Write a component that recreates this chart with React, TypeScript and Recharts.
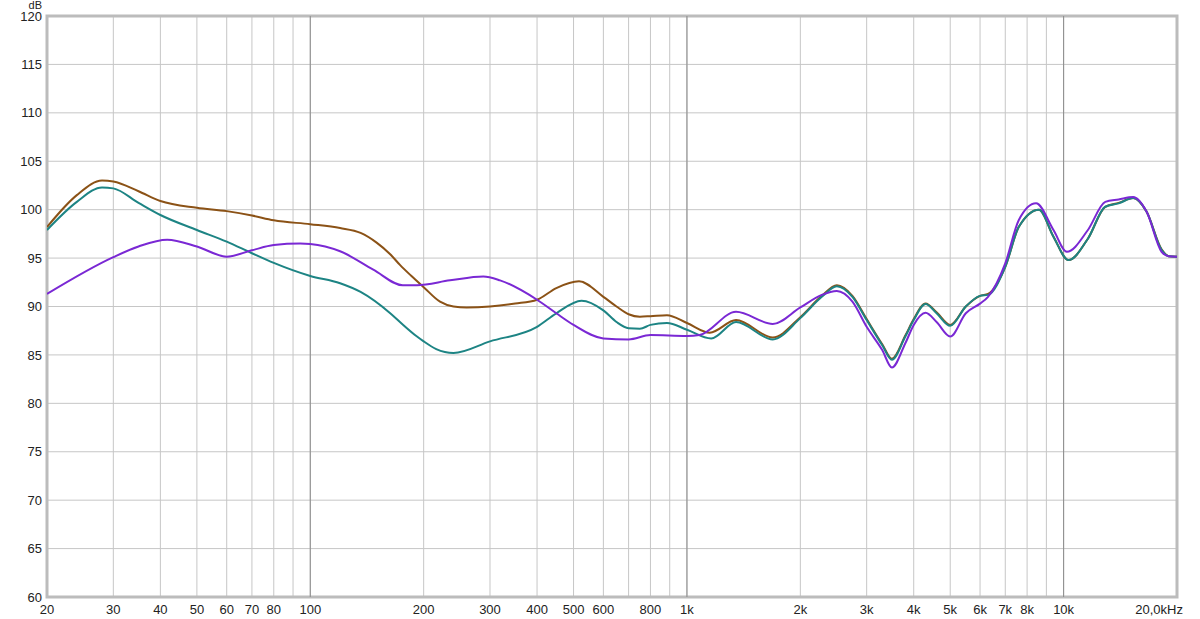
import React from "react";
import { LineChart, Line, XAxis, YAxis, CartesianGrid, ReferenceLine, ReferenceArea } from "recharts";

const freqTicks = [20, 30, 40, 50, 60, 70, 80, 90, 100, 200, 300, 400, 500, 600, 700, 800, 900, 1000, 2000, 3000, 4000, 5000, 6000, 7000, 8000, 9000, 10000, 20000];
const freqTickLabels = ["20", "30", "40", "50", "60", "70", "80", "", "100", "200", "300", "400", "500", "600", "", "800", "", "1k", "2k", "3k", "4k", "5k", "6k", "7k", "8k", "", "10k", "20,0kHz"];
const decadeLines = [100, 1000, 10000];
const dbTicks = [60, 65, 70, 75, 80, 85, 90, 95, 100, 105, 110, 115, 120];

const brownFreq = [20, 24, 28, 30, 35, 40, 50, 60, 70, 80, 100, 120, 136, 150, 163, 173, 185, 200, 221, 240, 260, 300, 350, 400, 450, 517, 600, 650, 700, 750, 800, 885, 1000, 1150, 1350, 1690, 2000, 2280, 2500, 2750, 3000, 3300, 3500, 3800, 4000, 4300, 4600, 5000, 5500, 6000, 6300, 7000, 7600, 8600, 9400, 10300, 11600, 12900, 14000, 15300, 16600, 18200, 19000, 20000];
const brownDb = [98.2, 101.5, 103.0, 102.9, 101.9, 100.9, 100.2, 99.85, 99.4, 98.9, 98.5, 98.1, 97.6, 96.6, 95.4, 94.3, 93.2, 92.0, 90.5, 90.0, 89.9, 90.0, 90.3, 90.7, 91.9, 92.6, 91.0, 90.0, 89.2, 88.95, 89.0, 89.1, 88.3, 87.3, 88.6, 86.8, 88.9, 91.1, 92.2, 91.1, 88.7, 86.1, 84.6, 87.0, 88.7, 90.3, 89.4, 88.1, 90.0, 91.1, 91.3, 94.1, 98.2, 100.0, 97.2, 94.8, 97.0, 100.3, 100.7, 101.2, 99.8, 95.9, 95.2, 95.15];

const tealFreq = [20, 24, 28, 30, 35, 40, 50, 60, 70, 80, 100, 120, 136, 163, 173, 192, 200, 216, 240, 300, 400, 450, 525, 600, 650, 700, 750, 800, 885, 1000, 1160, 1350, 1690, 2000, 2280, 2500, 2750, 3000, 3300, 3500, 3800, 4000, 4300, 4600, 5000, 5500, 6000, 6300, 7000, 7600, 8600, 9400, 10300, 11600, 12900, 14000, 15300, 16600, 18200, 19000, 20000];
const tealDb = [97.9, 100.8, 102.3, 102.2, 100.7, 99.45, 97.9, 96.7, 95.5, 94.5, 93.15, 92.4, 91.5, 89.3, 88.4, 86.9, 86.4, 85.6, 85.2, 86.4, 87.9, 89.3, 90.6, 89.6, 88.4, 87.75, 87.7, 88.1, 88.3, 87.6, 86.7, 88.4, 86.6, 88.8, 91.0, 92.1, 91.0, 88.6, 86.0, 84.5, 86.9, 88.6, 90.25, 89.3, 88.0, 90.0, 91.1, 91.2, 94.1, 98.2, 100.0, 97.2, 94.8, 97.0, 100.3, 100.65, 101.2, 99.8, 95.85, 95.2, 95.15];

const purpleFreq = [20, 30, 35, 41.7, 50, 60, 70, 80, 94, 100, 120, 147, 176, 192, 235, 288, 319, 400, 450, 500, 600, 700, 800, 1000, 1080, 1350, 1690, 2000, 2280, 2500, 2750, 3000, 3300, 3500, 3800, 4000, 4300, 4600, 5000, 5500, 6000, 6300, 7000, 7600, 8450, 9400, 10200, 11600, 12900, 14000, 15300, 16600, 18200, 19000, 20000];
const purpleDb = [91.3, 95.1, 96.2, 96.9, 96.2, 95.15, 95.8, 96.35, 96.5, 96.45, 95.7, 93.8, 92.2, 92.2, 92.7, 93.1, 92.7, 90.7, 89.3, 88.1, 86.7, 86.6, 87.05, 86.95, 87.05, 89.45, 88.2, 89.9, 91.2, 91.6, 90.5, 87.9, 85.5, 83.7, 86.2, 88.1, 89.35, 88.4, 86.9, 89.3, 90.3, 91.0, 94.45, 98.9, 100.65, 97.9, 95.65, 97.9, 100.8, 101.05, 101.3, 99.8, 95.65, 95.2, 95.15];

const toData = (f: number[], v: number[]) => f.map((x, i) => ({ f: x, db: v[i] }));
const brownData = toData(brownFreq, brownDb);
const tealData = toData(tealFreq, tealDb);
const purpleData = toData(purpleFreq, purpleDb);

const FONT = "'Liberation Sans', Arial, sans-serif";

const XTick = (props: any) => {
  const { x, y, payload } = props;
  const idx = freqTicks.indexOf(payload.value);
  const label = idx >= 0 ? freqTickLabels[idx] : "";
  const last = payload.value === 20000;
  return (
    <text x={last ? x + 6 : x} y={y} dy="0.71em" textAnchor={last ? "end" : "middle"} fontSize={13} fontFamily={FONT} fill="#222">
      {label}
    </text>
  );
};

const YTick = (props: any) => {
  const { x, y, payload } = props;
  return (
    <text x={x} y={y} dy="0.355em" textAnchor="end" fontSize={13} fontFamily={FONT} fill="#222">
      {payload.value}
    </text>
  );
};

const DbLabel = (props: any) => {
  const vb = props.viewBox || {};
  return (
    <text x={(vb.x || 0) + (vb.width || 0) - 5} y={(vb.y || 0) - 7} textAnchor="end" fontSize={11} fontFamily={FONT} fill="#222">
      dB
    </text>
  );
};

export default function App() {
  return (
    <div style={{ position: "absolute", left: 0, top: 0, width: 1200, height: 619, background: "#fff" }}>
      <style>{"body{margin:0;background:#fff}"}</style>
      <LineChart width={1200} height={619} margin={{ top: 16, right: 23, bottom: 0, left: 0 }}>
        <CartesianGrid stroke="#c6c6c6" strokeWidth={1} />
        <XAxis
          dataKey="f"
          type="number"
          scale="log"
          domain={[20, 20000]}
          ticks={freqTicks}
          allowDataOverflow
          axisLine={false}
          tickLine={false}
          tickSize={0}
          tickMargin={8}
          height={22}
          tick={<XTick />}
          interval={0}
        />
        <YAxis
          type="number"
          domain={[60, 120]}
          ticks={dbTicks}
          width={47}
          axisLine={false}
          tickLine={false}
          tickSize={0}
          tickMargin={5}
          tick={<YTick />}
          interval={0}
          label={<DbLabel />}
        />
        {decadeLines.map((d) => (
          <ReferenceLine key={d} x={d} stroke="#8c8c8c" strokeWidth={1} />
        ))}
        <Line data={brownData} dataKey="db" type="monotone" stroke="#8b5216" strokeWidth={2} dot={false} isAnimationActive={false} />
        <Line data={tealData} dataKey="db" type="monotone" stroke="#1d8484" strokeWidth={2} dot={false} isAnimationActive={false} />
        <Line data={purpleData} dataKey="db" type="monotone" stroke="#7a28d4" strokeWidth={2} dot={false} isAnimationActive={false} />
        <ReferenceArea x1={20} x2={20000} y1={60} y2={120} fill="none" stroke="#bcbcbc" strokeWidth={3} ifOverflow="visible" />
      </LineChart>
    </div>
  );
}
